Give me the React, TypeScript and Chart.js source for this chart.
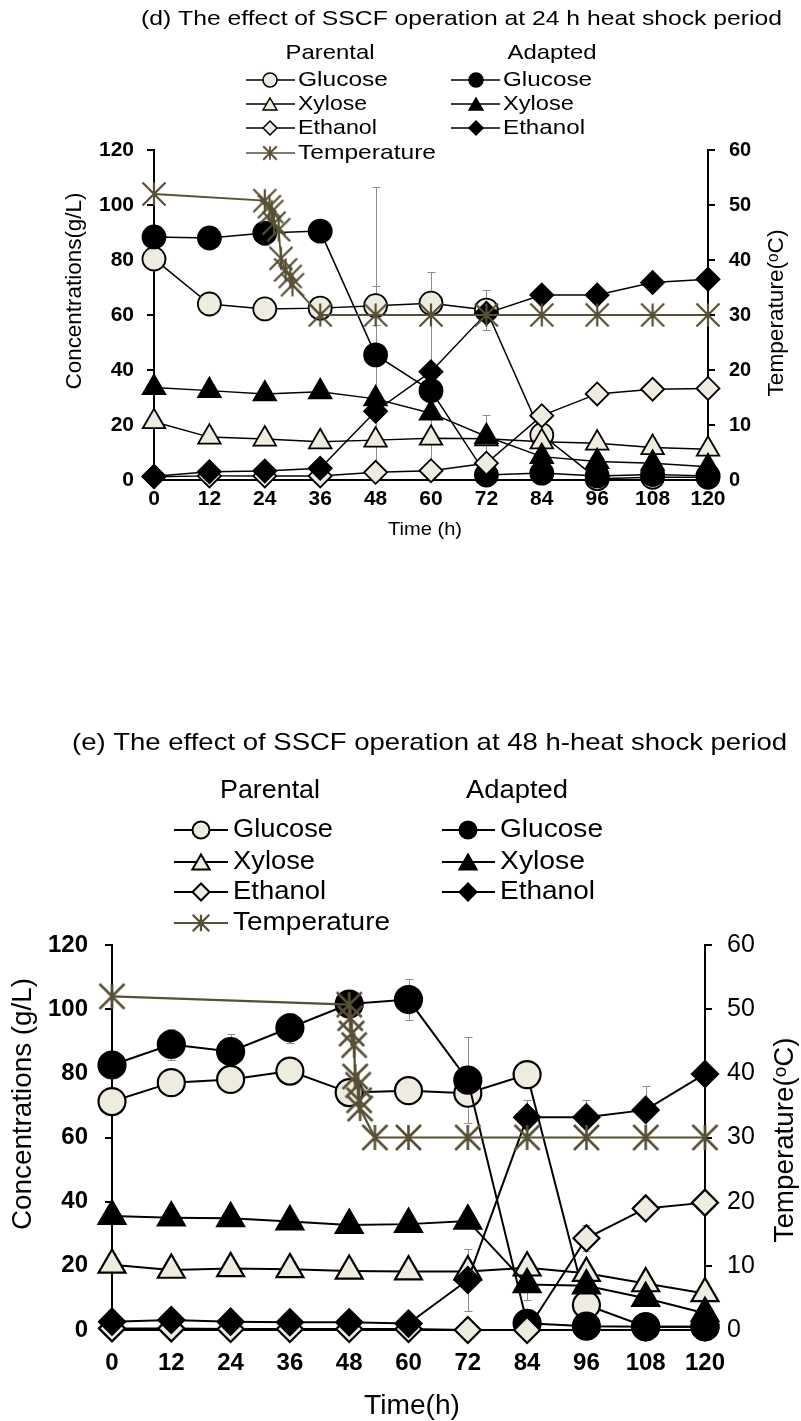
import React, { useEffect, useRef } from 'react';
import { Chart, registerables } from 'chart.js';

Chart.register(...registerables);

const FONT = "'Liberation Sans', Arial, Helvetica, sans-serif";
const TAN = '#EEECE1';
const TEMP_COLOR = '#575035';
const ERR_COLOR = '#8C8C8C';

// ---------- shared categories / labels ----------
const hours = [0, 12, 24, 36, 48, 60, 72, 84, 96, 108, 120];
const xTickStep = 12;
const concRange = [0, 120];
const concTickStep = 20;
const tempRange = [0, 60];
const tempTickStep = 10;

const groupLabels = ['Parental', 'Adapted'];
const seriesLabels = ['Glucose', 'Xylose', 'Ethanol'];
const tempLabel = 'Temperature';
const y2TitleText = 'Temperature(\u1D52C)';

// ---------- panel (d) ----------
const dTitle = '(d) The effect of SSCF operation at 24 h heat shock period';
const dYTitle = 'Concentrations(g/L)';
const dXTitle = 'Time (h)';
const dParentalGlucose = [80.4, 64, 62.2, 62.5, 63.4, 64.3, 61.8, 16.4, 0.5, 1, 1];
const dAdaptedGlucose = [88.4, 88, 89.8, 90.5, 45.5, 32.5, 1.8, 2.5, 1.5, 2, 1.5];
const dParentalXylose = [21.2, 15.6, 14.9, 13.9, 14.5, 15.2, 15, 13.9, 13.4, 11.8, 11.2];
const dAdaptedXylose = [33.6, 32.5, 31.3, 32.1, 29.5, 24.3, 15.8, 8.5, 6.7, 6.1, 4.8];
const dParentalEthanol = [1.2, 1.5, 1.5, 1.5, 2.8, 3.4, 6.1, 23.4, 31.3, 33, 33.3];
const dAdaptedEthanol = [1.4, 3, 3.3, 4.3, 25, 39.4, 60.6, 67.3, 67.3, 71.8, 73];
const dTempHours = [0, 24, 25, 25.5, 26, 27, 27.5, 28.5, 29.5, 30, 36, 48, 60, 72, 84, 96, 108, 120];
const dTempValues = [52, 50.8, 49.7, 48.8, 46.7, 45.5, 40.3, 38.2, 37, 35.5, 30, 30, 30, 30, 30, 30, 30, 30];
const dParentalGlucoseErr = [null, null, null, null, 7, null, 7.3, null, null, null, null];
const dAdaptedGlucoseErr = [null, null, 4.3, null, 61, 43.3, null, null, null, null, null];
const dAdaptedXyloseErr = [null, null, null, null, null, null, 7.8, null, null, null, null];

// ---------- panel (e) ----------
const eTitle = '(e) The effect of SSCF operation at 48 h-heat shock period';
const eYTitle = 'Concentrations (g/L)';
const eXTitle = 'Time(h)';
const eParentalGlucose = [71.2, 77.1, 78.1, 80.7, 74, 74.6, 73.8, 79.6, 7.8, 1, 1];
const eAdaptedGlucose = [82.6, 89, 86.8, 94.2, 101.6, 103, 77.9, 2.1, 1.2, 1, 1];
const eParentalXylose = [20.3, 18.7, 19.2, 18.9, 18.4, 18.2, 18.2, 19.4, 17.7, 14.5, 11.4];
const eAdaptedXylose = [35.5, 35, 34.8, 33.8, 32.7, 33, 34, 14.2, 13.8, 9.9, 5.2];
const eParentalEthanol = [0.5, 0.5, 0.3, 0.3, 0.3, 0.3, 0, 0, 28.6, 37.9, 39.7];
const eAdaptedEthanol = [2.6, 3.1, 2.6, 2.4, 2.4, 2, 15.6, 66.3, 66.3, 68.6, 79.8];
const eTempHours = [0, 48, 48.2, 48.5, 49, 49.2, 49.8, 50, 50.2, 53.2, 60, 72, 84, 96, 108, 120];
const eTempValues = [52, 50.7, 48.6, 46.2, 44.4, 39.5, 38.2, 35.8, 34.5, 30, 30, 30, 30, 30, 30, 30];
const eAdaptedGlucoseErr = [null, 4.7, 5.4, 4.7, null, 6.3, 13.4, null, null, null, null];
const eAdaptedEthanolErr = [null, null, null, null, null, null, 9.8, 5.4, 5.4, 7.5, null];
const eAdaptedXyloseErr = [null, null, null, null, null, null, null, 5, null, null, null];
const eParentalEthanolErr = [null, null, null, null, null, null, null, null, 4, null, null];

// ---------- layout (positions / sizes) ----------
const dLayout = {
  height: 700,
  area: { left: 154, right: 708, top: 150, bottom: 480 },
  lineW: 1.5, borderW: 1.8, tempLW: 1.8, starLW: 2.2,
  r: { circle: 11.5, triangle: 13, diamond: 11.5, star: 11.5 },
  tickFont: { left: { size: 21, weight: 'bold' }, right: { size: 20, weight: 'bold' }, x: { size: 21, weight: 'bold' } },
  tickPad: { left: 13, right: 14, x: 7 }, tickLen: 7,
  title: { cx: 461.5, cy: 19, size: 21, w: 641 },
  headers: [{ cx: 330, cy: 53, w: 89 }, { cx: 552, cy: 53, w: 89 }], headerSize: 21,
  rowsY: [80, 104, 128, 153],
  legendCols: [
    { x1: 246, x2: 295, mx: 270, tx: 298, widths: [90, 69, 79, 138] },
    { x1: 451, x2: 500, mx: 476, tx: 503, widths: [89, 71, 82] },
  ],
  legendSize: 21, legendLW: 1.5,
  legendR: { circle: 7, triangle: 8, diamond: 7, star: 9 },
  yTitle: { cx: 75, cy: 291, w: 197, size: 22 },
  y2Title: { cx: 777, cy: 313, w: 167, size: 22 },
  xTitle: { cx: 425, cy: 530, w: 74, size: 19 },
};

const eLayout = {
  height: 721,
  area: { left: 112, right: 705, top: 245, bottom: 630 },
  lineW: 2, borderW: 2.2, tempLW: 2.2, starLW: 2.6,
  r: { circle: 13.5, triangle: 15.5, diamond: 13, star: 12.5 },
  tickFont: { left: { size: 24, weight: 'bold' }, right: { size: 25, weight: 'normal' }, x: { size: 24, weight: 'bold' } },
  tickPad: { left: 17, right: 15, x: 19 }, tickLen: 7,
  title: { cx: 429.5, cy: 43, size: 24, w: 715 },
  headers: [{ cx: 270, cy: 91, w: 100 }, { cx: 517, cy: 91, w: 102 }], headerSize: 25,
  rowsY: [130, 162, 192, 223],
  legendCols: [
    { x1: 174, x2: 228, mx: 201, tx: 233, widths: [100, 82, 93, 157] },
    { x1: 442, x2: 495, mx: 468, tx: 500, widths: [103, 85, 95] },
  ],
  legendSize: 25, legendLW: 2,
  legendR: { circle: 8.5, triangle: 10, diamond: 8.5, star: 11 },
  yTitle: { cx: 23, cy: 404, w: 252, size: 28 },
  y2Title: { cx: 785, cy: 440, w: 205, size: 28 },
  xTitle: { cx: 412, cy: 706, w: 96, size: 28 },
};

const panelD = {
  layout: dLayout, title: dTitle, yTitle: dYTitle, xTitle: dXTitle,
  pg: dParentalGlucose, ag: dAdaptedGlucose, px: dParentalXylose, ax: dAdaptedXylose,
  pe: dParentalEthanol, ae: dAdaptedEthanol, tempHours: dTempHours, tempValues: dTempValues,
  errors: [
    { values: dParentalGlucose, errs: dParentalGlucoseErr },
    { values: dAdaptedGlucose, errs: dAdaptedGlucoseErr },
    { values: dAdaptedXylose, errs: dAdaptedXyloseErr },
  ],
};

const panelE = {
  layout: eLayout, title: eTitle, yTitle: eYTitle, xTitle: eXTitle,
  pg: eParentalGlucose, ag: eAdaptedGlucose, px: eParentalXylose, ax: eAdaptedXylose,
  pe: eParentalEthanol, ae: eAdaptedEthanol, tempHours: eTempHours, tempValues: eTempValues,
  errors: [
    { values: eAdaptedGlucose, errs: eAdaptedGlucoseErr },
    { values: eAdaptedEthanol, errs: eAdaptedEthanolErr },
    { values: eAdaptedXylose, errs: eAdaptedXyloseErr },
    { values: eParentalEthanol, errs: eParentalEthanolErr },
  ],
};

// ---------- drawing helpers ----------
function drawFitted(ctx: CanvasRenderingContext2D, text: string, cx: number, cy: number, size: number, weight: string, width: number, rot = 0) {
  ctx.save();
  ctx.font = `${weight} ${size}px ${FONT}`;
  const natural = ctx.measureText(text).width || 1;
  ctx.translate(cx, cy);
  if (rot) ctx.rotate(rot);
  ctx.scale(width / natural, 1);
  ctx.fillStyle = '#000';
  ctx.textAlign = 'center';
  ctx.textBaseline = 'middle';
  ctx.fillText(text, 0, 0);
  ctx.restore();
}

function starPath(g: CanvasRenderingContext2D, x: number, y: number, r: number) {
  g.moveTo(x, y - r); g.lineTo(x, y + r);
  g.moveTo(x - r, y - r); g.lineTo(x + r, y + r);
  g.moveTo(x + r, y - r); g.lineTo(x - r, y + r);
}

function makeStar(r: number, lw: number, color: string) {
  const size = Math.ceil(2 * r + 2 * lw);
  const c = document.createElement('canvas');
  c.width = size; c.height = size;
  const g = c.getContext('2d')!;
  g.strokeStyle = color; g.lineWidth = lw;
  g.beginPath();
  starPath(g, size / 2, size / 2, r);
  g.stroke();
  return c;
}

function drawMarker(ctx: CanvasRenderingContext2D, style: string, x: number, y: number, r: number, fill: string, lw: number) {
  ctx.save();
  ctx.beginPath();
  if (style === 'circle') {
    ctx.arc(x, y, r, 0, Math.PI * 2);
  } else if (style === 'triangle') {
    const yc = y + r / 4;
    ctx.moveTo(x, yc - r);
    ctx.lineTo(x + r * 0.866, yc + r * 0.5);
    ctx.lineTo(x - r * 0.866, yc + r * 0.5);
    ctx.closePath();
  } else {
    ctx.moveTo(x, y - r); ctx.lineTo(x + r, y); ctx.lineTo(x, y + r); ctx.lineTo(x - r, y);
    ctx.closePath();
  }
  ctx.fillStyle = fill; ctx.fill();
  ctx.strokeStyle = '#000'; ctx.lineWidth = lw; ctx.stroke();
  ctx.restore();
}

function hline(ctx: CanvasRenderingContext2D, x1: number, x2: number, y: number, color: string, lw: number) {
  ctx.save();
  ctx.beginPath(); ctx.moveTo(x1, y); ctx.lineTo(x2, y);
  ctx.strokeStyle = color; ctx.lineWidth = lw; ctx.stroke();
  ctx.restore();
}

function errorBarPlugin(spec: any) {
  return {
    id: 'errbars',
    beforeDatasetsDraw(chart: any) {
      const { ctx, chartArea: a } = chart;
      const xs = chart.scales.x;
      const ys = chart.scales.y;
      ctx.save();
      ctx.beginPath();
      ctx.rect(a.left - 10, a.top - 40, a.right - a.left + 20, a.bottom - a.top + 40);
      ctx.clip();
      ctx.strokeStyle = ERR_COLOR;
      ctx.lineWidth = 1;
      spec.errors.forEach((b: any) => {
        b.errs.forEach((e: number | null, i: number) => {
          if (e == null) return;
          const v = b.values[i];
          const x = Math.round(xs.getPixelForValue(hours[i])) + 0.5;
          const y1 = Math.round(ys.getPixelForValue(v + e)) + 0.5;
          const y2 = Math.round(ys.getPixelForValue(v - e)) + 0.5;
          ctx.beginPath();
          ctx.moveTo(x, y1); ctx.lineTo(x, y2);
          ctx.moveTo(x - 4, y1); ctx.lineTo(x + 4, y1);
          if (v - e >= 0) { ctx.moveTo(x - 4, y2); ctx.lineTo(x + 4, y2); }
          ctx.stroke();
        });
      });
      ctx.restore();
    },
  };
}

function decorPlugin(spec: any) {
  const L = spec.layout;
  const styles = ['circle', 'triangle', 'diamond'];
  const rKeys = ['circle', 'triangle', 'diamond'];
  return {
    id: 'decor',
    afterDraw(chart: any) {
      const ctx: CanvasRenderingContext2D = chart.ctx;
      drawFitted(ctx, spec.title, L.title.cx, L.title.cy, L.title.size, 'normal', L.title.w);
      groupLabels.forEach((g, i) => {
        drawFitted(ctx, g, L.headers[i].cx, L.headers[i].cy, L.headerSize, 'normal', L.headers[i].w);
      });
      [0, 1].forEach((col) => {
        const c = L.legendCols[col];
        seriesLabels.forEach((lab, row) => {
          const y = L.rowsY[row];
          hline(ctx, c.x1, c.x2, y, '#000', L.legendLW);
          drawMarker(ctx, styles[row], c.mx, y, L.legendR[rKeys[row]], col === 0 ? TAN : '#000', L.legendLW);
          drawFitted(ctx, lab, c.tx + c.widths[row] / 2, y, L.legendSize, 'normal', c.widths[row]);
        });
      });
      const c0 = L.legendCols[0];
      const ty = L.rowsY[3];
      hline(ctx, c0.x1, c0.x2, ty, TEMP_COLOR, L.legendLW);
      ctx.save();
      ctx.beginPath();
      starPath(ctx, c0.mx, ty, L.legendR.star * 0.75);
      ctx.strokeStyle = TEMP_COLOR; ctx.lineWidth = L.legendLW + 0.3; ctx.stroke();
      ctx.restore();
      drawFitted(ctx, tempLabel, c0.tx + c0.widths[3] / 2, ty, L.legendSize, 'normal', c0.widths[3]);

      drawFitted(ctx, spec.yTitle, L.yTitle.cx, L.yTitle.cy, L.yTitle.size, 'normal', L.yTitle.w, -Math.PI / 2);
      drawFitted(ctx, y2TitleText, L.y2Title.cx, L.y2Title.cy, L.y2Title.size, 'normal', L.y2Title.w, -Math.PI / 2);
      drawFitted(ctx, spec.xTitle, L.xTitle.cx, L.xTitle.cy, L.xTitle.size, 'normal', L.xTitle.w);
    },
  };
}

function buildConfig(spec: any): any {
  const L = spec.layout;
  const star = makeStar(L.r.star, L.starLW, TEMP_COLOR);
  const pts = (xs: number[], ys: number[]) => xs.map((x, i) => ({ x, y: ys[i] }));
  const series = (label: string, values: number[], style: string, fill: string, r: number, order: number) => ({
    label,
    data: pts(hours, values),
    yAxisID: 'y',
    order,
    borderColor: '#000',
    borderWidth: L.lineW,
    pointStyle: style,
    pointRadius: r,
    pointBackgroundColor: fill,
    pointBorderColor: '#000',
    pointBorderWidth: L.borderW,
    backgroundColor: fill,
    fill: false,
    tension: 0,
    clip: false,
  });
  const datasets = [
    {
      label: tempLabel,
      data: pts(spec.tempHours, spec.tempValues),
      yAxisID: 'y2',
      order: 0,
      borderColor: TEMP_COLOR,
      borderWidth: L.tempLW,
      pointStyle: star,
      pointRadius: L.r.star,
      fill: false,
      tension: 0,
      clip: false,
    },
    series('Adapted Ethanol', spec.ae, 'rectRot', '#000', L.r.diamond, 1),
    series('Parental Ethanol', spec.pe, 'rectRot', TAN, L.r.diamond, 2),
    series('Adapted Xylose', spec.ax, 'triangle', '#000', L.r.triangle, 3),
    series('Parental Xylose', spec.px, 'triangle', TAN, L.r.triangle, 4),
    series('Adapted Glucose', spec.ag, 'circle', '#000', L.r.circle, 5),
    series('Parental Glucose', spec.pg, 'circle', TAN, L.r.circle, 6),
  ];

  const axisGrid = {
    display: true, drawOnChartArea: false, drawTicks: true,
    tickLength: L.tickLen, tickWidth: 2, tickColor: '#000', color: '#000', lineWidth: 2,
  };
  const axisBorder = { display: true, color: '#000', width: 2 };

  return {
    type: 'line',
    data: { datasets },
    options: {
      responsive: false,
      animation: false,
      events: [],
      layout: { padding: { top: L.area.top, left: 0, right: 0, bottom: 0 } },
      plugins: { legend: { display: false }, title: { display: false }, tooltip: { enabled: false } },
      scales: {
        x: {
          type: 'linear', position: 'bottom', min: 0, max: 120,
          ticks: {
            stepSize: xTickStep, autoSkip: false, maxRotation: 0, minRotation: 0,
            color: '#000', padding: L.tickPad.x,
            font: { family: FONT, size: L.tickFont.x.size, weight: L.tickFont.x.weight },
          },
          grid: { display: false, drawTicks: false },
          border: axisBorder,
          afterFit: (s: any) => { s.height = L.height - L.area.bottom; },
        },
        y: {
          type: 'linear', position: 'left', min: concRange[0], max: concRange[1],
          ticks: {
            stepSize: concTickStep, color: '#000', padding: L.tickPad.left,
            font: { family: FONT, size: L.tickFont.left.size, weight: L.tickFont.left.weight },
          },
          grid: axisGrid,
          border: axisBorder,
          afterFit: (s: any) => { s.width = L.area.left; },
        },
        y2: {
          type: 'linear', position: 'right', min: tempRange[0], max: tempRange[1],
          ticks: {
            stepSize: tempTickStep, color: '#000', padding: L.tickPad.right,
            font: { family: FONT, size: L.tickFont.right.size, weight: L.tickFont.right.weight },
          },
          grid: axisGrid,
          border: axisBorder,
          afterFit: (s: any) => { s.width = 801 - L.area.right; },
        },
      },
    },
    plugins: [errorBarPlugin(spec), decorPlugin(spec)],
  };
}

function Panel({ spec, top }: { spec: any; top: number }) {
  const ref = useRef<HTMLCanvasElement>(null);
  useEffect(() => {
    const chart = new Chart(ref.current as HTMLCanvasElement, buildConfig(spec));
    return () => chart.destroy();
  }, [spec]);
  return (
    <canvas
      ref={ref}
      width={801}
      height={spec.layout.height}
      style={{ position: 'absolute', left: 0, top, display: 'block', width: 801, height: spec.layout.height }}
    />
  );
}

export default function App() {
  return (
    <div style={{ position: 'absolute', left: 0, top: 0, width: 801, height: 1421, overflow: 'hidden', background: '#fff' }}>
      <Panel spec={panelD} top={0} />
      <Panel spec={panelE} top={700} />
    </div>
  );
}
